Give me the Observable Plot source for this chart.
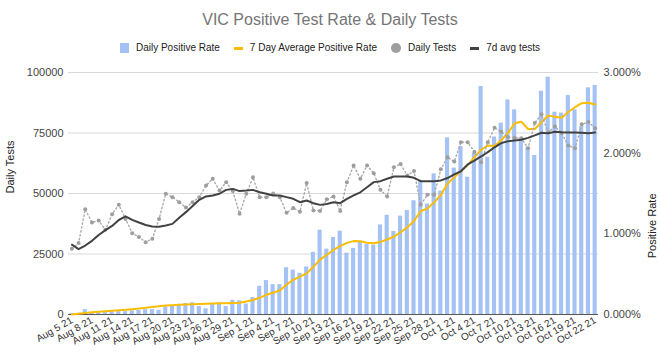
<!DOCTYPE html>
<html><head><meta charset="utf-8">
<script src="https://cdn.jsdelivr.net/npm/d3@7"></script>
<script src="https://cdn.jsdelivr.net/npm/@observablehq/plot@0.6"></script>
<style>
body{margin:0;background:#fff;font-family:"Liberation Sans",Arial,sans-serif;}
#wrap{position:relative;width:660px;height:358px;overflow:hidden;}
#title{position:absolute;top:10px;left:0;width:660px;text-align:center;font-size:16px;line-height:20px;color:#757575;}
#legend{position:absolute;top:40px;left:0;width:660px;display:flex;justify-content:center;align-items:center;font-size:10px;line-height:16px;color:#222;}
.item{display:flex;align-items:center;margin:0 7px;}
.sw{margin-right:7px;}
#chart{position:absolute;top:60px;left:0;}
</style></head>
<body><div id="wrap">
<div id="title">VIC Positive Test Rate &amp; Daily Tests</div>
<div id="legend"></div>
<div id="chart"></div>
</div>
<script>
const tickLabels = ["Aug 5 21","Aug 8 21","Aug 11 21","Aug 14 21","Aug 17 21","Aug 20 21","Aug 23 21","Aug 26 21","Aug 29 21","Sep 1 21","Sep 4 21","Sep 7 21","Sep 10 21","Sep 13 21","Sep 16 21","Sep 19 21","Sep 22 21","Sep 25 21","Sep 28 21","Oct 1 21","Oct 4 21","Oct 7 21","Oct 10 21","Oct 13 21","Oct 16 21","Oct 19 21","Oct 22 21"];

const dailyTests = [27200,29500,43500,38000,38800,35000,41400,45400,39500,33600,
32000,29900,31300,39500,49900,48500,46400,44200,46400,48500,
53300,56100,51200,54700,51000,41600,49900,56700,48500,48500,
50000,48500,42000,44000,42500,54300,43000,42800,47600,48800,
42800,54700,61600,56100,61600,58400,51500,48800,60800,62200,
57400,59300,45300,49500,49500,60000,65000,63200,71200,71200,
67300,62900,71200,77200,75500,73300,73000,72800,68700,79100,
82700,75300,77700,75000,69800,68700,78600,79500,77000];

const avgTests = [28850,27050,28500,30450,32850,34850,36600,39050,40550,39100,
38000,37000,36400,36250,36800,37450,40000,42300,44800,47400,
48800,49200,49900,51500,51900,51000,51200,51500,50500,49900,
49200,49200,48500,47800,46400,47100,46000,45300,45700,46400,
46000,47800,49200,50500,52600,54700,55100,56100,57000,57000,
57000,56500,55100,55100,55100,55400,56400,57900,59200,62000,
63600,65300,67100,69100,70800,71600,71900,72200,73000,74000,
75100,74900,75500,75300,75200,75200,75100,74900,75200];

const dailyRate = [0.01,0.015,0.06,0.025,0.025,0.03,0.03,0.035,0.035,0.045,
0.05,0.06,0.06,0.05,0.095,0.10,0.125,0.135,0.145,0.10,
0.07,0.13,0.14,0.10,0.175,0.17,0.13,0.21,0.35,0.42,
0.37,0.37,0.58,0.55,0.51,0.59,0.77,1.045,0.81,0.955,
1.033,0.76,0.82,0.897,0.868,0.86,1.11,1.23,1.03,1.22,
1.29,1.41,1.66,1.37,1.744,1.53,2.19,1.815,2.083,1.702,
2.0,2.826,1.95,2.2,2.372,2.66,2.537,2.19,2.074,1.971,
2.768,2.942,2.508,2.496,2.715,2.537,2.331,2.81,2.839];

const avgRate = [0.0,0.01,0.02,0.027,0.034,0.041,0.047,0.052,0.058,0.066,
0.075,0.083,0.093,0.102,0.112,0.116,0.12,0.124,0.127,0.13,
0.132,0.135,0.138,0.14,0.142,0.145,0.16,0.18,0.207,0.244,
0.27,0.298,0.37,0.43,0.47,0.51,0.59,0.68,0.74,0.80,
0.847,0.888,0.91,0.909,0.89,0.884,0.90,0.93,0.965,1.02,
1.08,1.16,1.28,1.315,1.39,1.48,1.62,1.70,1.78,1.85,
1.95,2.04,2.095,2.09,2.16,2.25,2.37,2.39,2.30,2.30,
2.384,2.467,2.45,2.44,2.51,2.57,2.62,2.624,2.603];

const leftTicks = [0,25000,50000,75000,100000];
const rightTicks = [0,1,2,3];
const rightMax = 3;   // percent at top
const leftMax = 100000;

const colors = {bar:"#a4c2f4", avgRate:"#fbbc04", tests:"#9e9e9e", avgTests:"#424242"};

const rows = dailyTests.map((t,i)=>({i, tests:t, avgTests:avgTests[i], rate:dailyRate[i], avgRate:avgRate[i]}));
const toLeft = p => p/rightMax*leftMax;

// legend
const legendItems = [
  ["Daily Positive Rate", `<span class="sw" style="display:inline-block;width:9px;height:10px;background:${colors.bar}"></span>`],
  ["7 Day Average Positive Rate", `<span class="sw" style="display:inline-block;width:9px;height:3px;background:${colors.avgRate}"></span>`],
  ["Daily Tests", `<span class="sw" style="display:inline-block;width:10px;height:10px;border-radius:50%;background:${colors.tests}"></span>`],
  ["7d avg tests", `<span class="sw" style="display:inline-block;width:9px;height:3px;background:${colors.avgTests}"></span>`]
];
document.getElementById("legend").innerHTML = legendItems.map(([t,s])=>`<span class="item">${s}${t}</span>`).join("");

const chart = Plot.plot({
  width: 660,
  height: 298,
  marginTop: 12,
  marginBottom: 44,
  marginLeft: 68,
  marginRight: 62,
  style: {fontFamily: '"Liberation Sans", Arial, sans-serif', background: "#fff", color: "#444"},
  x: {type: "linear", domain: [-0.5, rows.length - 0.5], axis: null},
  y: {domain: [0, leftMax], axis: null},
  marks: [
    Plot.gridY(leftTicks.filter(d=>d>0), {stroke: "#d9d9d9", strokeOpacity: 1}),
    Plot.axisY({anchor: "left", ticks: leftTicks, tickFormat: d=>String(d), tickSize: 0, tickPadding: 5, fontSize: 11, label: null, color: "#444"}),
    Plot.axisY({anchor: "right", ticks: rightTicks.map(toLeft), tickFormat: v => (v*rightMax/leftMax).toFixed(3)+"%", tickSize: 0, tickPadding: 5, fontSize: 11, label: null, color: "#444"}),
    Plot.axisX({ticks: tickLabels.map((_,k)=>k*3), tickFormat: v => tickLabels[Math.round(v/3)], tickRotate: -30, tickSize: 0, tickPadding: 5, fontSize: 10, label: null, color: "#333"}),
    Plot.rectY(rows, {x1: d=>d.i-0.5, x2: d=>d.i+0.5, y: d=>toLeft(d.rate), fill: colors.bar, insetLeft: 1.3, insetRight: 1.3}),
    Plot.ruleY([0], {stroke: "#555", strokeWidth: 1}),
    Plot.line(rows, {x: "i", y: d=>toLeft(d.avgRate), stroke: colors.avgRate, strokeWidth: 2}),
    Plot.line(rows, {x: "i", y: "tests", stroke: "#aaaaaa", strokeWidth: 1.4, strokeDasharray: "1.4,2.6", strokeLinecap: "round"}),
    Plot.dot(rows, {x: "i", y: "tests", r: 2, fill: colors.tests}),
    Plot.line(rows, {x: "i", y: "avgTests", stroke: colors.avgTests, strokeWidth: 2}),
    Plot.text(["Daily Tests"], {text: d=>d, frameAnchor: "left", rotate: -90, dx: -58, fontSize: 11, fill: "#222"}),
    Plot.text(["Positive Rate"], {text: d=>d, frameAnchor: "right", rotate: -90, dx: 54, fontSize: 11, fill: "#222"})
  ]
});
document.getElementById("chart").appendChild(chart);
</script>
</body></html>
